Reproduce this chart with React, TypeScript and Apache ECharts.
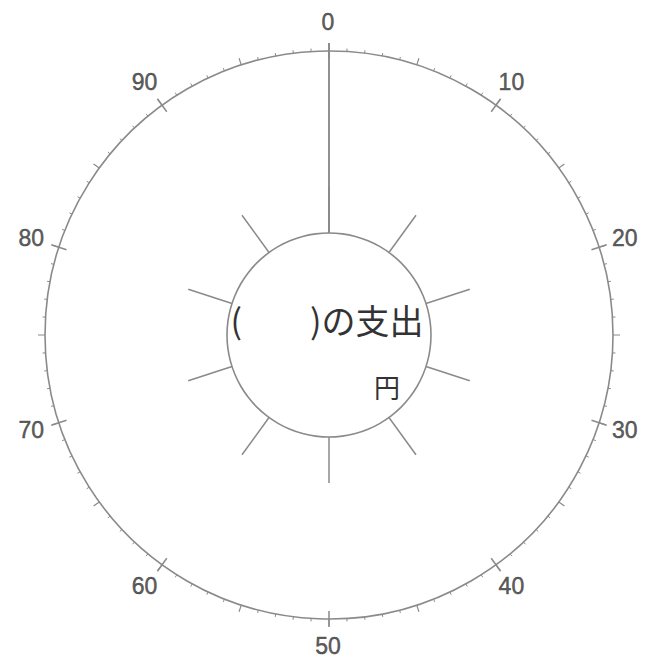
import React, { useEffect, useRef } from "react";
import * as echarts from "echarts";

// Scale of the outer dial
const DIAL_MIN = 0;
const DIAL_MAX = 100;
const TICK_INTERVAL = 5; // medium ticks
const MINOR_PER_INTERVAL = 5; // minor ticks every 1
const MAJOR_SPLITS = 10; // major ticks every 10
const LABEL_VALUES = [0, 10, 20, 30, 40, 50, 60, 70, 80, 90];
const TICK_LABELS = ["0", "10", "20", "30", "40", "50", "60", "70", "80", "90"];

// Inner circle spokes
const SPOKE_COUNT = 10;

// Texts in the centre
const TITLE_TEXT = "(　　)の支出";
const UNIT_TEXT = "円";

const LINE = "#8a8a8a";
const TEXT = "#333333";

export default function App() {
  const ref = useRef<HTMLDivElement>(null);

  useEffect(() => {
    if (!ref.current) return;
    const chart = echarts.init(ref.current, null, { renderer: "svg" });
    const center = [329, 335];
    const R = 284;
    const innerR = 102;
    const spokeR = 148;
    const labelR = 312;

    const hiddenGauge = {
      type: "gauge",
      center,
      startAngle: 90,
      endAngle: -270,
      min: DIAL_MIN,
      max: DIAL_MAX,
      pointer: { show: false },
      anchor: { show: false },
      progress: { show: false },
      axisLine: { show: false, lineStyle: { width: 0 } },
      axisTick: { show: false },
      splitLine: { show: false },
      axisLabel: { show: false },
      title: { show: false },
      detail: { show: false },
      silent: true,
      data: [{ value: 0 }],
    };

    const angleBase = {
      type: "value",
      min: DIAL_MIN,
      max: DIAL_MAX,
      startAngle: 90,
      clockwise: true,
      splitLine: { show: false },
    };

    chart.setOption({
      animation: false,
      polar: [
        { center, radius: R },
        { center: [328, 334], radius: labelR },
      ],
      angleAxis: [
        {
          ...angleBase,
          polarIndex: 0,
          interval: TICK_INTERVAL,
          axisLine: { lineStyle: { color: LINE, width: 1.6 } },
          axisTick: { show: true, inside: false, length: 7, lineStyle: { color: LINE, width: 1.2 } },
          minorTick: { show: true, splitNumber: MINOR_PER_INTERVAL, length: 3, lineStyle: { color: LINE, width: 1 } },
          axisLabel: { show: false },
        },
        {
          ...angleBase,
          polarIndex: 1,
          show: false,
        },
      ],
      radiusAxis: [
        { polarIndex: 0, show: false, min: 0, max: 1 },
        { polarIndex: 1, show: false, min: 0, max: 1 },
      ],
      series: [
        // tick labels, centred on a ring outside the dial
        {
          type: "scatter",
          coordinateSystem: "polar",
          polarIndex: 1,
          symbolSize: 0,
          silent: true,
          itemStyle: { color: TEXT },
          data: LABEL_VALUES.map((v, i) => ({ value: [1, v], name: TICK_LABELS[i] })),
          label: {
            show: true,
            position: "inside",
            align: "center",
            verticalAlign: "middle",
            lineHeight: 17,
            color: TEXT,
            textBorderWidth: 0.5,
            textBorderColor: TEXT,
            fontSize: 23,
            fontFamily: "Liberation Sans, Arial, sans-serif",
            formatter: (p: any) => p.name,
          },
        },
        // major ticks crossing the circle
        {
          ...hiddenGauge,
          radius: R + 8,
          splitNumber: MAJOR_SPLITS,
          splitLine: { show: true, length: 16, distance: 0, lineStyle: { color: LINE, width: 1.5 } },
        },
        // spokes round the inner circle
        {
          ...hiddenGauge,
          radius: spokeR,
          splitNumber: SPOKE_COUNT,
          splitLine: { show: true, length: spokeR - innerR, distance: 0, lineStyle: { color: LINE, width: 1.5 } },
        },
        // long top spoke
        {
          ...hiddenGauge,
          radius: R,
          splitNumber: 1,
          splitLine: { show: true, length: R - innerR, distance: 0, lineStyle: { color: LINE, width: 1.5 } },
        },
        // inner circle with texts
        {
          ...hiddenGauge,
          radius: innerR + 0.8,
          splitNumber: 1,
          axisLine: { show: true, lineStyle: { width: 1.6, color: [[1, LINE]] } },
          title: {
            show: true,
            offsetCenter: [-2, -16],
            color: TEXT,
            fontSize: 34,
            fontFamily: "Noto Sans CJK JP",
          },
          detail: {
            show: true,
            offsetCenter: [58, 51],
            color: TEXT,
            fontSize: 26,
            fontWeight: "normal",
            fontFamily: "Noto Sans CJK JP",
            formatter: () => UNIT_TEXT,
          },
          data: [{ value: 0, name: TITLE_TEXT }],
        },
      ],
    });
    return () => chart.dispose();
  }, []);

  return (
    <div
      ref={ref}
      style={{ position: "absolute", left: 0, top: 0, width: 645, height: 658, background: "#fff" }}
    />
  );
}
